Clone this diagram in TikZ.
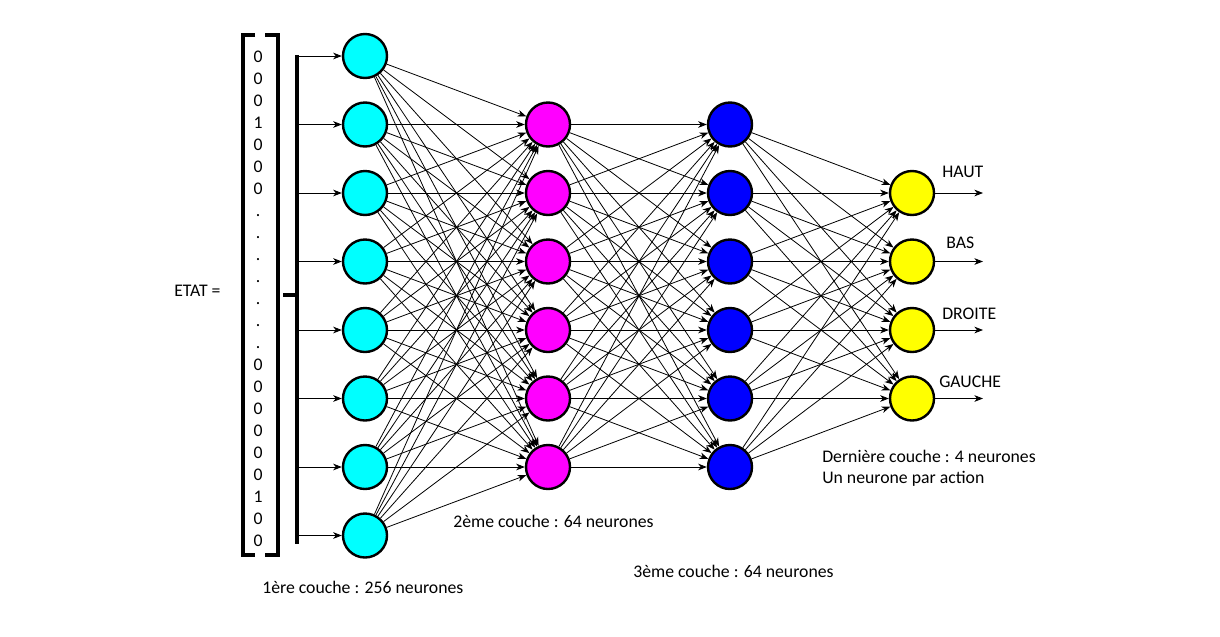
\documentclass[tikz,border=0pt]{standalone}
\usepackage{fontspec}
\setmainfont{Carlito}
\usetikzlibrary{arrows.meta}
\definecolor{incol}{RGB}{0,255,255}
\definecolor{hidcolA}{RGB}{255,0,255}
\definecolor{hidcolB}{RGB}{0,0,255}
\definecolor{outcol}{RGB}{255,255,0}
\begin{document}
\begin{tikzpicture}[x=0.75pt,y=-0.75pt,
  neuron/.style={circle,draw=black,line width=1.8pt,minimum size=33pt,inner sep=0pt},
  link/.style={line width=0.6pt,-{Stealth[length=6.5pt,width=5pt,inset=2pt]}},
  lbl/.style={font=\fontsize{13.3}{15}\selectfont,inner sep=0pt},
  heavy/.style={line width=2.4pt},
]
\useasboundingbox (0,0) rectangle (1220,636);

% state vector entries
\foreach \v [count=\k from 0] in {0,0,0,1,0,0,0,.,.,.,.,.,.,.,0,0,0,0,0,0,1,0,0}
  \node[lbl,anchor=base] (v\k) at (258,{62+22.04*\k}) {\v};

% brackets around the vector
\draw[heavy] (255,35) -- (243,35) -- (243,555) -- (255,555);
\draw[heavy] (265,35) -- (278,35) -- (278,555) -- (265,555);
\node[lbl,anchor=base west] (etat) at (174,296) {ETAT =};

% input bus
\draw[heavy] (297,55) -- (297,544);
\draw[heavy] (283,295) -- (297,295);

% layers
\foreach \i in {0,...,7}
  \node[neuron,fill=incol] (a\i) at (365,{56+68.5*\i}) {};
\foreach \i in {1,...,6}{
  \node[neuron,fill=hidcolA] (b\i) at (548,{56+68.5*\i}) {};
  \node[neuron,fill=hidcolB] (c\i) at (730,{56+68.5*\i}) {};
}
\foreach \i in {2,...,5}
  \node[neuron,fill=outcol] (d\i) at (912,{56+68.5*\i}) {};

% inputs
\foreach \i in {0,...,7}{
  \coordinate (in\i) at (297,{56+68.5*\i});
  \draw[link] (in\i) -- (a\i);
}

% fully connected layers
\foreach \i in {0,...,7}
  \foreach \j in {1,...,6}
    \draw[link] (a\i) -- (b\j);
\foreach \i in {1,...,6}
  \foreach \j in {1,...,6}
    \draw[link] (b\i) -- (c\j);
\foreach \i in {1,...,6}
  \foreach \j in {2,...,5}
    \draw[link] (c\i) -- (d\j);

% outputs
\foreach \i in {2,...,5}{
  \coordinate (out\i) at (983,{56+68.5*\i});
  \draw[link] (d\i) -- (out\i);
}

% action labels
\node[lbl,anchor=base west] (haut) at (942,177) {HAUT};
\node[lbl,anchor=base west] (bas) at (946,248) {BAS};
\node[lbl,anchor=base west] (droite) at (942,319) {DROITE};
\node[lbl,anchor=base west] (gauche) at (939,387) {GAUCHE};

% layer captions
\node[lbl,anchor=base west] (l1) at (262,593) {1ère couche : 256 neurones};
\node[lbl,anchor=base west] (l2) at (453,527) {2ème couche : 64 neurones};
\node[lbl,anchor=base west] (l3) at (633,577) {3ème couche : 64 neurones};
\node[lbl,anchor=base west] (l4a) at (822,462) {Dernière couche : 4 neurones};
\node[lbl,anchor=base west] (l4b) at (822,483) {Un neurone par action};
\end{tikzpicture}
\end{document}
